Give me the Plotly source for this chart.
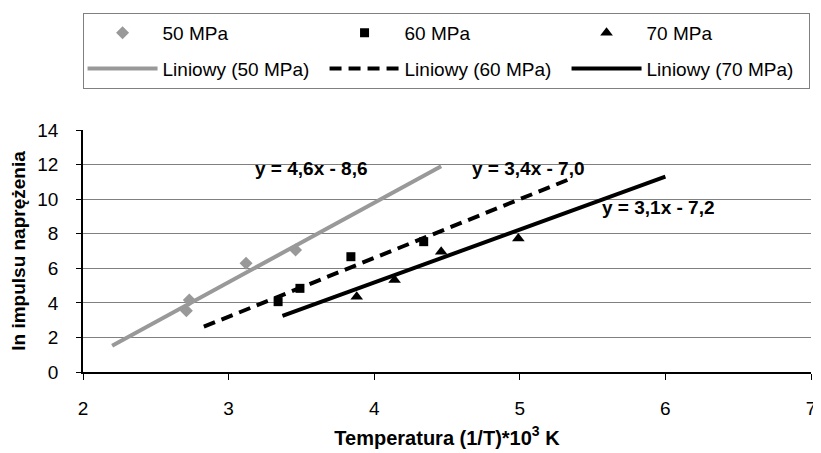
import plotly.graph_objects as go

# measured points
x50 = [2.71, 2.73, 3.12, 3.46]
y50 = [3.55, 4.16, 6.29, 7.06]
x60 = [3.34, 3.49, 3.84, 4.34]
y60 = [4.07, 4.84, 6.67, 7.54]
x70 = [3.88, 4.14, 4.46, 4.99]
y70 = [4.36, 5.32, 6.96, 7.73]

# trend line end points
tx50 = [2.2, 4.46]
ty50 = [1.52, 11.9]
tx60 = [2.83, 5.36]
ty60 = [2.62, 11.22]
tx70 = [3.37, 6.0]
ty70 = [3.25, 11.3]

eq_labels = ["y = 4,6x - 8,6", "y = 3,4x - 7,0", "y = 3,1x - 7,2"]
eq_x = [3.17, 4.66, 5.55]
eq_y = [11.8, 11.8, 9.49]

grey = "#999999"
font = "Liberation Sans, Arial, sans-serif"

fig = go.Figure()
fig.add_trace(go.Scatter(x=x50, y=y50, mode="markers", name="50 MPa", legendgroup="a",
                         marker=dict(symbol="diamond", size=10, color=grey)))
fig.add_trace(go.Scatter(x=x60, y=y60, mode="markers", name="60 MPa", legendgroup="b",
                         marker=dict(symbol="square", size=9, color="black")))
fig.add_trace(go.Scatter(x=x70, y=y70, mode="markers", name="70 MPa", legendgroup="c",
                         marker=dict(symbol="triangle-up", size=11, color="black")))
fig.add_trace(go.Scatter(x=tx50, y=ty50, mode="lines", name="Liniowy (50 MPa)", legendgroup="d",
                         line=dict(color=grey, width=4)))
fig.add_trace(go.Scatter(x=tx60, y=ty60, mode="lines", name="Liniowy (60 MPa)", legendgroup="e",
                         line=dict(color="black", width=4, dash="12px,7px")))
fig.add_trace(go.Scatter(x=tx70, y=ty70, mode="lines", name="Liniowy (70 MPa)", legendgroup="f",
                         line=dict(color="black", width=4)))

for t, x, y in zip(eq_labels, eq_x, eq_y):
    fig.add_annotation(x=x, y=y, text="<b>" + t + "</b>", showarrow=False,
                       xanchor="left", yanchor="middle",
                       font=dict(family=font, size=19, color="black"))

fig.update_layout(
    width=813, height=445,
    margin=dict(l=75, r=5, t=122, b=81),
    paper_bgcolor="white", plot_bgcolor="white",
    font=dict(family=font, size=19, color="black"),
    showlegend=True,
    legend=dict(orientation="h", x=0.998, xanchor="right", y=1.4835, yanchor="top",
                entrywidth=157, entrywidthmode="pixels",
                traceorder="grouped", tracegroupgap=8,
                bordercolor="#808080", borderwidth=1,
                font=dict(family=font, size=19, color="black"),
                itemwidth=70),
    xaxis=dict(range=[2, 7], dtick=1, showgrid=False, showline=True,
               linecolor="black", linewidth=1.5, ticks="outside", ticklen=6,
               tickcolor="black", zeroline=False, ticklabelstandoff=12,
               ticklabeloverflow="allow",
               title=dict(text="<b>Temperatura (1/T)*10<sup>3</sup> K</b>",
                          font=dict(size=20), standoff=13)),
    yaxis=dict(range=[0, 14], dtick=2, showgrid=True, gridcolor="#808080",
               gridwidth=1, showline=True, linecolor="black", linewidth=1.5,
               ticks="outside", ticklen=5, tickcolor="black", zeroline=False,
               ticklabelstandoff=14,
               title=dict(text="<b>ln impulsu naprężenia</b>",
                          font=dict(size=19), standoff=10)),
)

fig.write_html("out.html")
